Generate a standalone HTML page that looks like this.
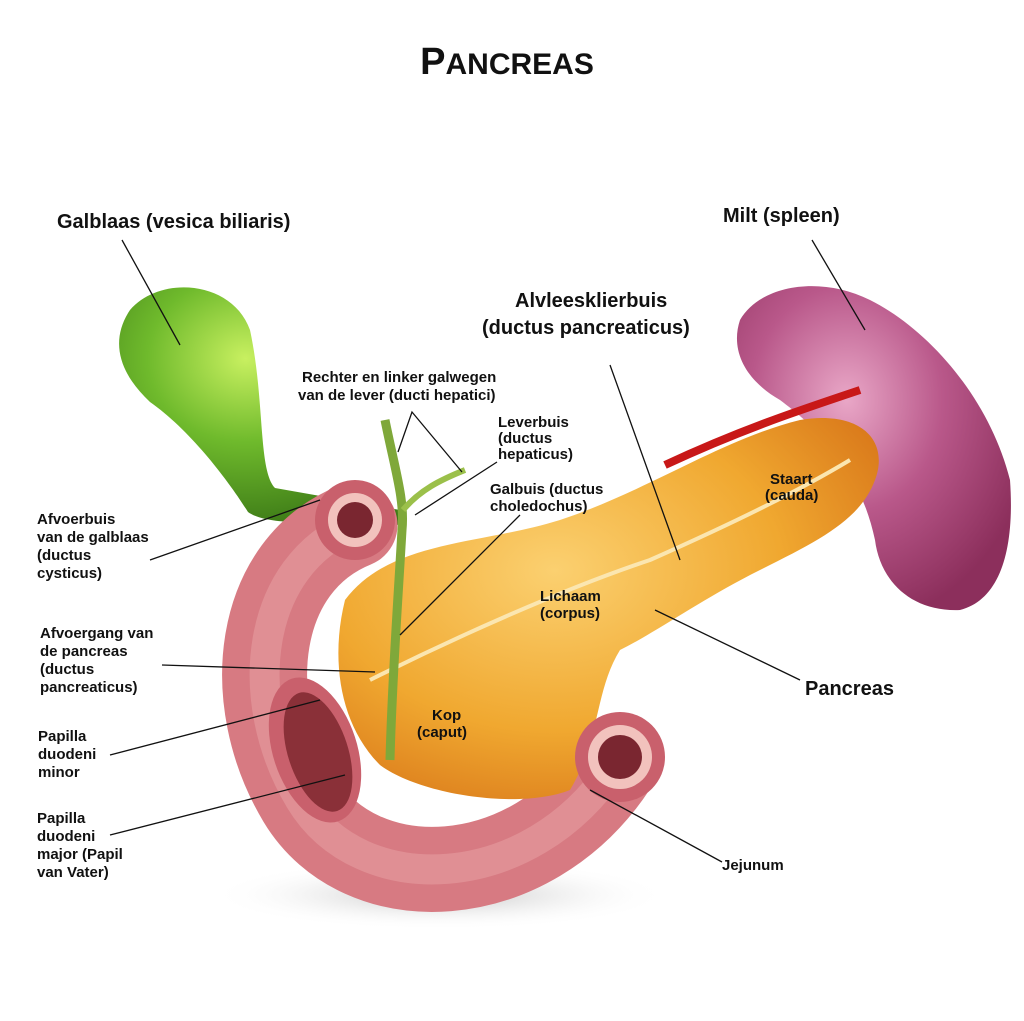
<!DOCTYPE html>
<html><head><meta charset="utf-8"><style>
html,body{margin:0;padding:0;background:#fff;}
svg{display:block;}
text{font-family:"Liberation Sans",sans-serif;fill:#111;}
.s{font-size:15px;font-weight:600;}
.b{font-size:20px;font-weight:bold;}
</style></head><body>
<svg width="1024" height="1021" viewBox="0 0 1024 1021" xmlns="http://www.w3.org/2000/svg">
<defs>
<radialGradient id="sh" cx="50%" cy="50%" r="50%"><stop offset="0" stop-color="#999" stop-opacity=".6"/><stop offset="1" stop-color="#fff" stop-opacity="0"/></radialGradient>
<radialGradient id="pg" cx="40%" cy="40%" r="70%"><stop offset="0" stop-color="#fbd070"/><stop offset=".6" stop-color="#f0a830"/><stop offset="1" stop-color="#d9781a"/></radialGradient>
<radialGradient id="sp" cx="40%" cy="35%" r="70%"><stop offset="0" stop-color="#e9a7c7"/><stop offset=".5" stop-color="#b9588a"/><stop offset="1" stop-color="#8c2f5c"/></radialGradient>
<radialGradient id="gb" cx="45%" cy="30%" r="70%"><stop offset="0" stop-color="#c8f060"/><stop offset=".5" stop-color="#6fba2c"/><stop offset="1" stop-color="#3f7d18"/></radialGradient>
</defs>
<rect width="1024" height="1021" fill="#fff"/>
<text x="507" y="74" text-anchor="middle" style="font-size:38px;font-weight:900;">P<tspan style="font-size:30px">ANCREAS</tspan></text>
<ellipse cx="440" cy="895" rx="230" ry="35" fill="url(#sh)"/>
<!-- spleen -->
<path d="M740,320 C760,285 820,275 870,300 C930,330 990,400 1010,480 C1015,550 1000,600 960,610 C910,612 880,580 875,540 C860,470 820,430 780,400 C745,380 730,350 740,320 Z" fill="url(#sp)"/>
<!-- artery -->
<path d="M665,465 C740,430 800,410 860,390" stroke="#c81818" stroke-width="8" fill="none"/>
<!-- gallbladder -->
<path d="M130,310 C160,275 232,280 250,330 C265,400 258,470 275,488 L400,510 L400,525 C330,520 270,528 248,512 C228,480 190,430 150,402 C118,372 110,340 130,310 Z" fill="url(#gb)"/>
<!-- duodenum -->
<path d="M355,525 C255,565 240,700 300,800 C360,900 530,895 615,765" stroke="#d77a82" stroke-width="85" fill="none" stroke-linecap="round"/>
<path d="M355,525 C255,565 240,700 300,800 C360,900 530,895 615,765" stroke="#eaa3a6" stroke-width="30" fill="none" opacity=".5"/>
<circle cx="355" cy="520" r="40" fill="#c9606c"/><circle cx="355" cy="520" r="27" fill="#f2c2bd"/><circle cx="355" cy="520" r="18" fill="#7a2630"/>
<!-- pancreas -->
<path d="M345,600 C390,540 480,545 560,520 C650,490 720,440 800,420 C860,410 890,440 875,480 C860,520 820,540 760,570 C700,600 660,630 620,650 C595,690 600,740 570,790 C520,810 420,795 380,765 C340,725 330,660 345,600 Z" fill="url(#pg)"/>
<path d="M370,680 C450,640 560,590 650,560 C740,520 800,490 850,460" stroke="#fbe6b0" stroke-width="4" fill="none"/>
<circle cx="620" cy="757" r="45" fill="#c9606c"/><circle cx="620" cy="757" r="32" fill="#f2c2bd"/><circle cx="620" cy="757" r="22" fill="#7a2630"/>
<ellipse cx="315" cy="750" rx="42" ry="75" transform="rotate(-18 315 750)" fill="#c9606c"/>
<ellipse cx="318" cy="752" rx="30" ry="62" transform="rotate(-18 318 752)" fill="#8a3038"/>
<!-- bile ducts -->
<path d="M385,420 C395,470 405,500 402,530 C398,600 392,680 390,760" stroke="#7fa83a" stroke-width="9" fill="none"/>
<path d="M403,510 C420,490 440,480 465,470" stroke="#9bc04a" stroke-width="6" fill="none"/>
<!-- leader lines -->
<g stroke="#111" stroke-width="1.3" fill="none">
<line x1="122" y1="240" x2="180" y2="345"/>
<line x1="812" y1="240" x2="865" y2="330"/>
<line x1="610" y1="365" x2="680" y2="560"/>
<polyline points="398,452 412,412 462,472"/>
<line x1="497" y1="462" x2="415" y2="515"/>
<line x1="520" y1="515" x2="400" y2="635"/>
<line x1="150" y1="560" x2="320" y2="500"/>
<line x1="162" y1="665" x2="375" y2="672"/>
<line x1="110" y1="755" x2="320" y2="700"/>
<line x1="110" y1="835" x2="345" y2="775"/>
<line x1="800" y1="680" x2="655" y2="610"/>
<line x1="722" y1="862" x2="590" y2="790"/>
</g>
<text class="b" x="57" y="228">Galblaas (vesica biliaris)</text>
<text class="b" x="723" y="222">Milt (spleen)</text>
<text class="b" x="515" y="307">Alvleesklierbuis</text>
<text class="b" x="482" y="334">(ductus pancreaticus)</text>
<text class="s" x="302" y="382">Rechter en linker galwegen</text>
<text class="s" x="298" y="400">van de lever (ducti hepatici)</text>
<text class="s" x="498" y="427">Leverbuis</text>
<text class="s" x="498" y="443">(ductus</text>
<text class="s" x="498" y="459">hepaticus)</text>
<text class="s" x="490" y="494">Galbuis (ductus</text>
<text class="s" x="490" y="511">choledochus)</text>
<text class="s" x="770" y="484">Staart</text>
<text class="s" x="765" y="500">(cauda)</text>
<text class="s" x="540" y="601">Lichaam</text>
<text class="s" x="540" y="618">(corpus)</text>
<text class="s" x="432" y="720">Kop</text>
<text class="s" x="417" y="737">(caput)</text>
<text class="b" x="805" y="695">Pancreas</text>
<text class="s" x="722" y="870">Jejunum</text>
<text class="s" x="37" y="524">Afvoerbuis</text>
<text class="s" x="37" y="542">van de galblaas</text>
<text class="s" x="37" y="560">(ductus</text>
<text class="s" x="37" y="578">cysticus)</text>
<text class="s" x="40" y="638">Afvoergang van</text>
<text class="s" x="40" y="656">de pancreas</text>
<text class="s" x="40" y="674">(ductus</text>
<text class="s" x="40" y="692">pancreaticus)</text>
<text class="s" x="38" y="741">Papilla</text>
<text class="s" x="38" y="759">duodeni</text>
<text class="s" x="38" y="777">minor</text>
<text class="s" x="37" y="823">Papilla</text>
<text class="s" x="37" y="841">duodeni</text>
<text class="s" x="37" y="859">major (Papil</text>
<text class="s" x="37" y="877">van Vater)</text>
</svg>
</body></html>
